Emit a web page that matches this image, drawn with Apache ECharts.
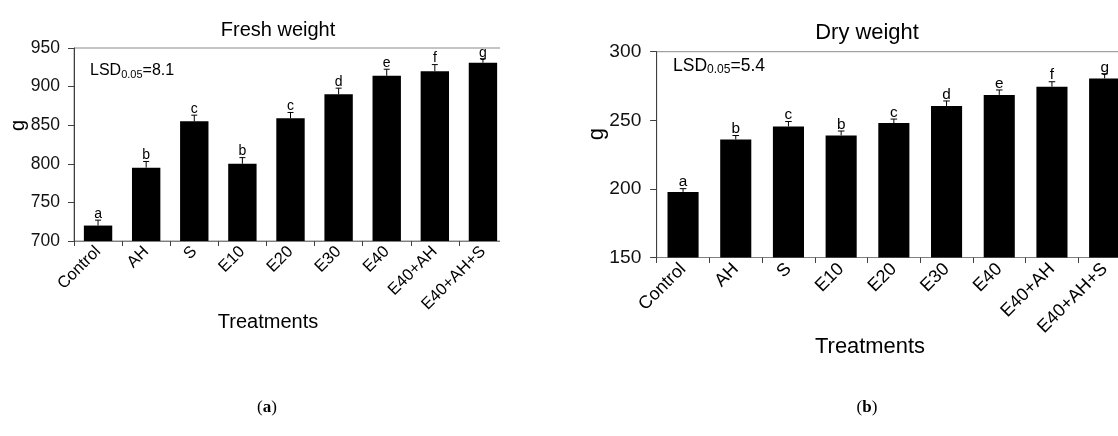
<!DOCTYPE html>
<html>
<head>
<meta charset="utf-8">
<script src="https://cdn.jsdelivr.net/npm/echarts@6/dist/echarts.min.js"></script>
<style>
  html, body { margin: 0; padding: 0; background: #fff; overflow: hidden; width: 1118px; height: 436px; }
  #wa { position: absolute; left: 0; top: 0; width: 500px; height: 436px; overflow: hidden; }
  #ca { width: 560px; height: 436px; }
  #cb { position: absolute; left: 540px; top: 0; width: 620px; height: 436px; }
</style>
</head>
<body>
<div id="wa"><div id="ca"></div></div>
<div id="cb"></div>
<script>
// ---- data ----
const categories = ['Control', 'AH', 'S', 'E10', 'E20', 'E30', 'E40', 'E40+AH', 'E40+AH+S'];

const freshValues  = [720, 795, 855, 800, 859, 890, 914, 920, 931];
const freshErrors  = [7, 8, 8, 8, 7.5, 8, 8.5, 8.5, 5];
const freshLetters = ['a', 'b', 'c', 'b', 'c', 'd', 'e', 'f', 'g'];
const freshLSD = '8.1';

const dryValues  = [197.8, 236, 245.5, 239, 248, 260.5, 268.5, 274.5, 280.5];
const dryErrors  = [2.4, 2.9, 3.6, 3.2, 2.9, 3.6, 3.6, 3.6, 3.4];
const dryLetters = ['a', 'b', 'c', 'b', 'c', 'd', 'e', 'f', 'g'];
const dryLSD = '5.4';

const FONT = 'Liberation Sans, Arial, sans-serif';

function errRender(letters, capHalf, fs) {
  return function (params, api) {
    const i = api.value(0), v = api.value(1), e = api.value(2);
    const base = api.coord([i, v]);
    const top = api.coord([i, v + e]);
    return {
      type: 'group',
      children: [
        { type: 'line', shape: { x1: base[0], y1: base[1], x2: top[0], y2: top[1] }, style: { stroke: '#000', lineWidth: 1 } },
        { type: 'line', shape: { x1: top[0] - capHalf, y1: top[1], x2: top[0] + capHalf, y2: top[1] }, style: { stroke: '#000', lineWidth: 1 } },
        { type: 'text', style: { text: letters[params.dataIndex], x: top[0], y: top[1] + 1, align: 'center', verticalAlign: 'bottom', fontSize: fs, fontFamily: FONT, fill: '#000' } }
      ]
    };
  };
}

function buildOption(cfg) {
  const s = cfg.scale;
  return {
    animation: false,
    title: {
      text: cfg.title, left: cfg.titleX, top: cfg.titleTop, textAlign: 'center',
      textStyle: { fontSize: 20 * s, fontWeight: 'normal', fontFamily: FONT, color: '#000' }
    },
    grid: {
      left: cfg.gridLeft, top: cfg.gridTop, width: cfg.gridWidth, height: cfg.gridHeight,
      show: true, borderColor: '#8a8a8a', borderWidth: 1, backgroundColor: 'transparent', containLabel: false
    },
    xAxis: {
      type: 'category', data: categories, boundaryGap: true,
      axisLine: { lineStyle: { color: '#7f7f7f', width: 1 } },
      axisTick: { show: true, alignWithLabel: false, length: 5 * s, lineStyle: { color: '#404040' } },
      axisLabel: { rotate: 45, interval: 0, margin: 8 * s, fontSize: 16.5 * s, fontFamily: FONT, color: '#000' },
      splitLine: { show: false }
    },
    yAxis: {
      type: 'value', min: cfg.yMin, max: cfg.yMax, interval: 50,
      axisLine: { show: true, lineStyle: { color: '#404040', width: 1 } },
      axisTick: { show: true, length: 6 * s, lineStyle: { color: '#404040' } },
      axisLabel: { margin: 14 * s, fontSize: 17.5 * s, fontFamily: FONT, color: '#111' },
      splitLine: { show: false }
    },
    graphic: [
      { type: 'text', left: cfg.gLeft, top: cfg.gTop, rotation: Math.PI / 2,
        style: { text: 'g', fontSize: 20 * s, fontFamily: FONT, fill: '#000' } },
      { type: 'text', x: cfg.treatX, y: cfg.treatY,
        style: { text: 'Treatments', align: 'center', verticalAlign: 'middle', fontSize: 20 * s, fontFamily: FONT, fill: '#000' } },
      { type: 'text', x: cfg.lsdX, y: cfg.lsdY,
        style: {
          text: 'LSD{sub|0.05}=' + cfg.lsd, verticalAlign: 'middle', fontSize: 16 * s, fontFamily: FONT, fill: '#000',
          rich: { sub: { fontSize: 11 * s, fontFamily: FONT, fill: '#000', padding: [7 * s, 0, 0, 0] } }
        } },
      { type: 'text', x: cfg.capX, y: cfg.capY,
        style: {
          text: '({b|' + cfg.cap + '})', align: 'center', verticalAlign: 'middle', fontSize: 17, fontFamily: 'Liberation Serif, serif', fill: '#000',
          rich: { b: { fontSize: 17, fontWeight: 'bold', fontFamily: 'Liberation Serif, serif', fill: '#000' } }
        } }
    ],
    series: [
      {
        type: 'bar', data: cfg.values, barWidth: '59%',
        itemStyle: { color: '#000' }
      },
      {
        type: 'custom', z: 5,
        renderItem: errRender(cfg.letters, 3 * s, 14 * s),
        data: cfg.values.map((v, i) => [i, v, cfg.errors[i]])
      }
    ]
  };
}

const chartA = echarts.init(document.getElementById('ca'), null, { renderer: 'canvas' });
chartA.setOption(buildOption({
  scale: 1, title: 'Fresh weight', titleX: 273, titleTop: 15,
  gridLeft: 74, gridTop: 48, gridWidth: 433, gridHeight: 193,
  yMin: 700, yMax: 950, values: freshValues, errors: freshErrors, letters: freshLetters,
  lsd: freshLSD, lsdX: 90, lsdY: 71,
  gLeft: 8, gTop: 120, treatX: 268, treatY: 322,
  cap: 'a', capX: 267, capY: 408
}));

const OX = 540;
const chartB = echarts.init(document.getElementById('cb'), null, { renderer: 'canvas' });
chartB.setOption(buildOption({
  scale: 1.096, title: 'Dry weight', titleX: 862 - OX, titleTop: 17,
  gridLeft: 656.7 - OX, gridTop: 51.7, gridWidth: 474.3, gridHeight: 205.8,
  yMin: 150, yMax: 300, values: dryValues, errors: dryErrors, letters: dryLetters,
  lsd: dryLSD, lsdX: 673 - OX, lsdY: 66,
  gLeft: 586 - OX, gTop: 128, treatX: 870 - OX, treatY: 347,
  cap: 'b', capX: 867 - OX, capY: 408
}));
</script>
</body>
</html>
